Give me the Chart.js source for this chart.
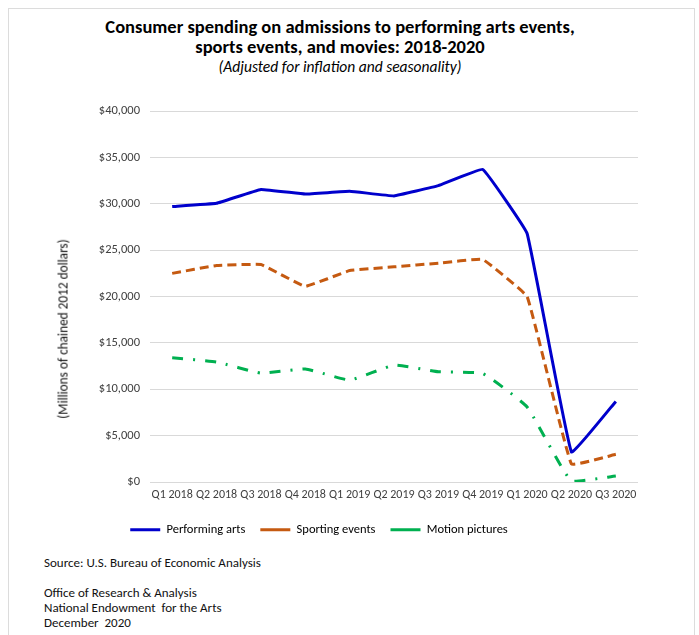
<!DOCTYPE html>
<html>
<head>
<meta charset="utf-8">
<script src="https://cdn.jsdelivr.net/npm/chart.js@4"></script>
<style>
  html, body { margin: 0; padding: 0; background: #fff; }
  #wrap { position: relative; width: 699px; height: 635px; overflow: hidden;
          font-family: Carlito, "Liberation Sans", sans-serif; }
  #frame { position: absolute; left: 8px; top: 8px; width: 687px; height: 660px;
           border: 1px solid #dcdcdc; box-sizing: border-box; }
  #chartBox { position: absolute; left: 0; top: 0; width: 699px; height: 546px; }
  .head { position: absolute; left: 0; width: 680px; text-align: center; color: #000;
          white-space: nowrap; }
  #title { top: 17px; font-size: 18.5px; font-weight: bold; line-height: 20px; }
  #subtitle { top: 57px; font-size: 15.5px; font-style: italic; line-height: 20px; }
  #yTitle { position: absolute; left: 63px; top: 329px; font-size: 13.3px; color: #111;
            white-space: nowrap; transform: translate(-50%, -50%) rotate(-90deg); }
  .note { position: absolute; left: 44px; font-size: 13px; color: #111;
          white-space: pre; line-height: 15px; }
</style>
</head>
<body>
<div id="wrap">
  <div id="frame"></div>
  <div class="head" id="title">Consumer spending on admissions to performing arts events,<br>sports events, and movies: 2018-2020</div>
  <div class="head" id="subtitle">(Adjusted for inflation and seasonality)</div>
  <div id="chartBox"><canvas id="chart"></canvas></div>
  <div id="yTitle">(Millions of chained 2012 dollars)</div>
  <div class="note" style="top:555px">Source: U.S. Bureau of Economic Analysis</div>
  <div class="note" style="top:585px">Office of Research &amp; Analysis
National Endowment  for the Arts
December  2020</div>
</div>
<script>
// Trimestres y gasto (millones de dólares encadenados de 2012)
const quarters = ['Q1 2018', 'Q2 2018', 'Q3 2018', 'Q4 2018', 'Q1 2019', 'Q2 2019',
                  'Q3 2019', 'Q4 2019', 'Q1 2020', 'Q2 2020', 'Q3 2020'];
const performingArts = [29700, 30050, 31550, 31050, 31350, 30850, 31950, 33700, 26800, 3250, 8700];
const sportingEvents = [22500, 23350, 23450, 21100, 22800, 23200, 23600, 24000, 20000, 1950, 3000];
const motionPictures = [13400, 12950, 11750, 12200, 11000, 12600, 11900, 11700, 8100, 100, 650];
const yTicksMax = 40000;
const yTicksStep = 5000;

const FONT = 'Carlito, "Liberation Sans", sans-serif';

const ctx = document.getElementById('chart').getContext('2d');
new Chart(ctx, {
  type: 'line',
  data: {
    labels: quarters,
    datasets: [
      {
        label: 'Performing arts',
        data: performingArts,
        borderColor: '#0000CC',
        backgroundColor: '#0000CC',
        borderWidth: 3
      },
      {
        label: 'Sporting events',
        data: sportingEvents,
        borderColor: '#C55A11',
        backgroundColor: '#C55A11',
        borderWidth: 3,
        borderDash: [9, 5]
      },
      {
        label: 'Motion pictures',
        data: motionPictures,
        borderColor: '#00B050',
        backgroundColor: '#00B050',
        borderWidth: 3,
        borderDash: [11, 10, 2, 10],
        tension: 0.12
      }
    ]
  },
  options: {
    responsive: true,
    maintainAspectRatio: false,
    animation: false,
    layout: { padding: { top: 111, left: 0, right: 61, bottom: 0 } },
    elements: {
      point: { radius: 0, hoverRadius: 0 },
      line: { tension: 0.07 }
    },
    plugins: {
      legend: {
        position: 'bottom',
        labels: {
          usePointStyle: true,
          pointStyle: 'line',
          pointStyleWidth: 30,
          boxHeight: 10,
          color: '#000',
          padding: 15,
          font: { family: FONT, size: 12.5 }
        }
      },
      tooltip: { enabled: false }
    },
    scales: {
      x: {
        offset: true,
        grid: { display: false, drawTicks: false },
        border: { display: false },
        ticks: {
          color: '#404040',
          maxRotation: 0,
          autoSkip: false,
          padding: 6,
          font: { family: FONT, size: 12 }
        }
      },
      y: {
        min: 0,
        max: yTicksMax,
        afterFit: (scale) => { scale.width = 150; },
        grid: { color: '#d9d9d9', drawTicks: false },
        border: { display: false },
        ticks: {
          stepSize: yTicksStep,
          color: '#404040',
          padding: 10,
          font: { family: FONT, size: 12.5 },
          callback: (v) => '$' + v.toLocaleString('en-US')
        }
      }
    }
  }
});
</script>
</body>
</html>
